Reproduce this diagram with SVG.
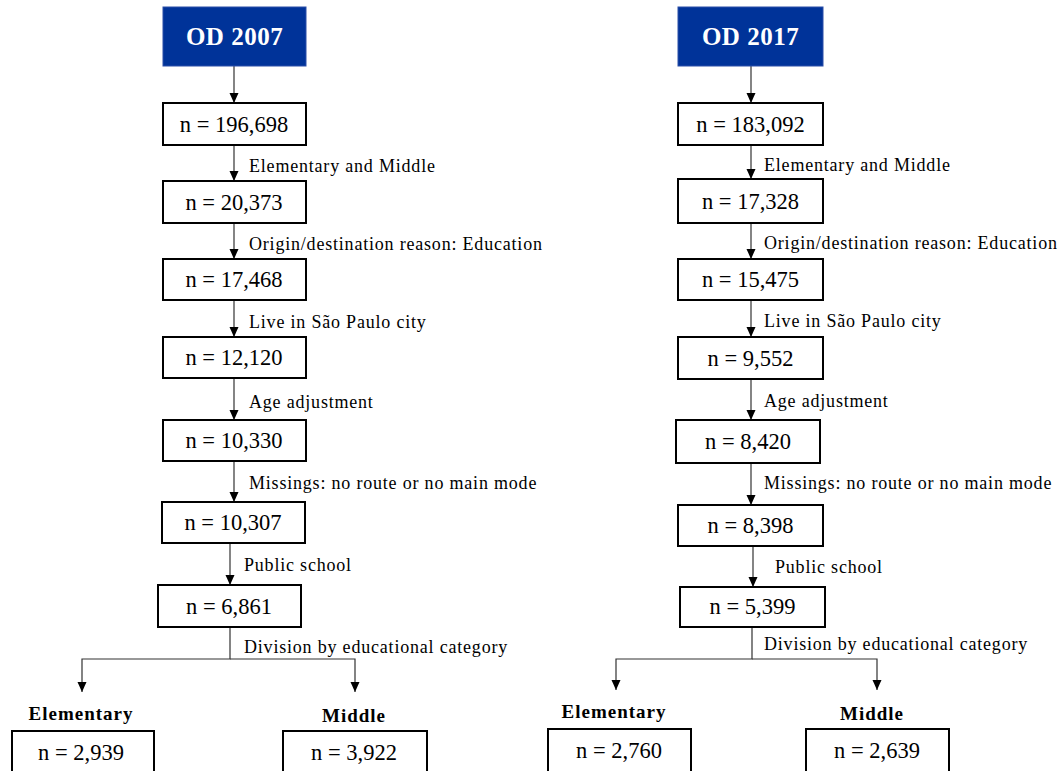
<svg xmlns="http://www.w3.org/2000/svg" width="1058" height="771" viewBox="0 0 1058 771">
<style>
  .hdr { fill: #003399; stroke: #2a4ea8; stroke-width: 1; }
  .hdrt { font-family: "Liberation Serif", "Times New Roman", serif; font-weight: bold; font-size: 25px; fill: #ffffff; text-anchor: middle; letter-spacing: 0.5px; }
  .box { fill: #ffffff; stroke: #000000; stroke-width: 2; }
  .nt { font-family: "Liberation Serif", "Times New Roman", serif; font-size: 22.5px; fill: #000000; text-anchor: middle; }
  .lbl { font-family: "Liberation Serif", "Times New Roman", serif; font-size: 18px; fill: #000000; letter-spacing: 0.8px; }
  .cat { font-family: "Liberation Serif", "Times New Roman", serif; font-weight: bold; font-size: 19px; fill: #000000; text-anchor: middle; letter-spacing: 1px; }
  .con { fill: none; stroke: #333333; stroke-width: 1.2; }
</style>
<defs>
  <marker id="ah" markerUnits="userSpaceOnUse" markerWidth="10" markerHeight="10" refX="10" refY="5" orient="auto">
    <path d="M0,0.5 L10,5 L0,9.5 z" fill="#000000"/>
  </marker>
</defs>
<rect width="1058" height="771" fill="#ffffff"/>

<g id="connectors">
  <line class="con" x1="234" y1="66" x2="234" y2="103" marker-end="url(#ah)"/>
  <line class="con" x1="234" y1="145" x2="234" y2="181" marker-end="url(#ah)"/>
  <line class="con" x1="234" y1="223" x2="234" y2="259" marker-end="url(#ah)"/>
  <line class="con" x1="234" y1="300" x2="234" y2="337" marker-end="url(#ah)"/>
  <line class="con" x1="234" y1="378" x2="234" y2="420" marker-end="url(#ah)"/>
  <line class="con" x1="234" y1="461" x2="234" y2="502" marker-end="url(#ah)"/>
  <line class="con" x1="230" y1="543" x2="230" y2="585" marker-end="url(#ah)"/>
  <path class="con" d="M230,627 V659 H82 V692" marker-end="url(#ah)"/>
  <path class="con" d="M230,659 H355 V692" marker-end="url(#ah)"/>

  <line class="con" x1="751" y1="66" x2="751" y2="103" marker-end="url(#ah)"/>
  <line class="con" x1="751" y1="145" x2="751" y2="179" marker-end="url(#ah)"/>
  <line class="con" x1="751" y1="223" x2="751" y2="259" marker-end="url(#ah)"/>
  <line class="con" x1="751" y1="300" x2="751" y2="337" marker-end="url(#ah)"/>
  <line class="con" x1="751" y1="379" x2="751" y2="420" marker-end="url(#ah)"/>
  <line class="con" x1="751" y1="463" x2="751" y2="505" marker-end="url(#ah)"/>
  <line class="con" x1="753" y1="546" x2="753" y2="587" marker-end="url(#ah)"/>
  <path class="con" d="M752,627 V659 H616 V690" marker-end="url(#ah)"/>
  <path class="con" d="M752,659 H877 V690" marker-end="url(#ah)"/>
</g>

<g id="labels">
  <text class="lbl" x="249" y="172">Elementary and Middle</text>
  <text class="lbl" x="249" y="250">Origin/destination reason: Education</text>
  <text class="lbl" x="249" y="328">Live in São Paulo city</text>
  <text class="lbl" x="249" y="408">Age adjustment</text>
  <text class="lbl" x="249" y="489">Missings: no route or no main mode</text>
  <text class="lbl" x="244" y="571">Public school</text>
  <text class="lbl" x="244" y="653">Division by educational category</text>

  <text class="lbl" x="764" y="171">Elementary and Middle</text>
  <text class="lbl" x="764" y="249">Origin/destination reason: Education</text>
  <text class="lbl" x="764" y="327">Live in São Paulo city</text>
  <text class="lbl" x="764" y="407">Age adjustment</text>
  <text class="lbl" x="764" y="489">Missings: no route or no main mode</text>
  <text class="lbl" x="775" y="573">Public school</text>
  <text class="lbl" x="764" y="650">Division by educational category</text>

  <text class="cat" x="81" y="720">Elementary</text>
  <text class="cat" x="354" y="722">Middle</text>
  <text class="cat" x="614" y="718">Elementary</text>
  <text class="cat" x="872" y="720">Middle</text>
</g>

<g id="od2007">
  <rect class="hdr" x="163" y="7" width="143" height="59"/>
  <text class="hdrt" x="234.5" y="45">OD 2007</text>
</g>
<g id="l_196698">
  <rect class="box" x="163" y="103" width="143" height="42"/>
  <text class="nt" x="234" y="132">n = 196,698</text>
</g>
<g id="l_20373">
  <rect class="box" x="163" y="181" width="143" height="42"/>
  <text class="nt" x="234" y="210">n = 20,373</text>
</g>
<g id="l_17468">
  <rect class="box" x="163" y="259" width="143" height="41"/>
  <text class="nt" x="234" y="287">n = 17,468</text>
</g>
<g id="l_12120">
  <rect class="box" x="163" y="337" width="143" height="41"/>
  <text class="nt" x="234" y="365">n = 12,120</text>
</g>
<g id="l_10330">
  <rect class="box" x="163" y="420" width="143" height="41"/>
  <text class="nt" x="234" y="448">n = 10,330</text>
</g>
<g id="l_10307">
  <rect class="box" x="162" y="502" width="143" height="41"/>
  <text class="nt" x="233" y="530">n = 10,307</text>
</g>
<g id="l_6861">
  <rect class="box" x="158" y="585" width="143" height="42"/>
  <text class="nt" x="229" y="614">n = 6,861</text>
</g>
<g id="l_elem">
  <rect class="box" x="12" y="731" width="142" height="60"/>
  <text class="nt" x="81" y="760">n = 2,939</text>
</g>
<g id="l_mid">
  <rect class="box" x="283" y="731" width="144" height="60"/>
  <text class="nt" x="354" y="760">n = 3,922</text>
</g>

<g id="od2017">
  <rect class="hdr" x="678" y="7" width="145" height="59"/>
  <text class="hdrt" x="750.5" y="45">OD 2017</text>
</g>
<g id="r_183092">
  <rect class="box" x="678" y="103" width="145" height="42"/>
  <text class="nt" x="750.5" y="132">n = 183,092</text>
</g>
<g id="r_17328">
  <rect class="box" x="678" y="179" width="145" height="44"/>
  <text class="nt" x="750.5" y="209">n = 17,328</text>
</g>
<g id="r_15475">
  <rect class="box" x="678" y="259" width="145" height="41"/>
  <text class="nt" x="750.5" y="287">n = 15,475</text>
</g>
<g id="r_9552">
  <rect class="box" x="678" y="337" width="145" height="42"/>
  <text class="nt" x="750.5" y="366">n = 9,552</text>
</g>
<g id="r_8420">
  <rect class="box" x="676" y="420" width="144" height="43"/>
  <text class="nt" x="748" y="449">n = 8,420</text>
</g>
<g id="r_8398">
  <rect class="box" x="678" y="505" width="145" height="41"/>
  <text class="nt" x="750.5" y="533">n = 8,398</text>
</g>
<g id="r_5399">
  <rect class="box" x="680" y="587" width="145" height="40"/>
  <text class="nt" x="752.5" y="614">n = 5,399</text>
</g>
<g id="r_elem">
  <rect class="box" x="548" y="729" width="143" height="60"/>
  <text class="nt" x="619" y="758">n = 2,760</text>
</g>
<g id="r_mid">
  <rect class="box" x="806" y="729" width="143" height="60"/>
  <text class="nt" x="877" y="758">n = 2,639</text>
</g>
</svg>
